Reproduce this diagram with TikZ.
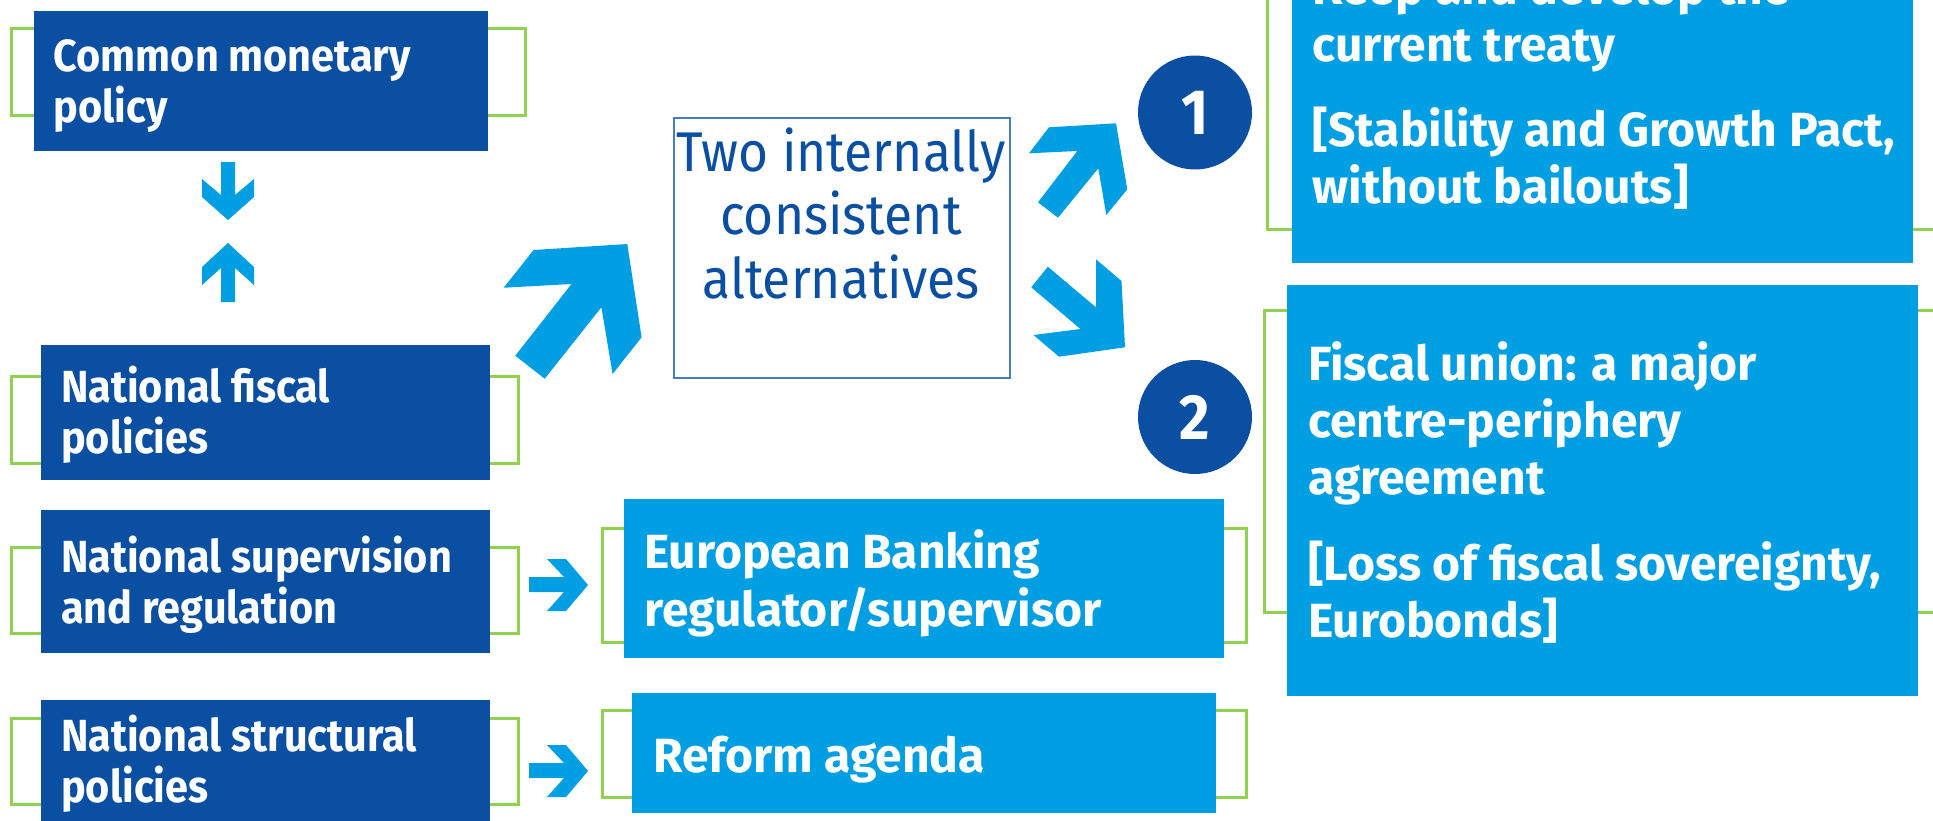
\documentclass[tikz,border=0pt]{standalone}
\usepackage{fontspec}
\newfontfamily\boxfont{Fira Sans}[FakeStretch=0.92]
\newfontfamily\widefont{Fira Sans}
\definecolor{ecbdark}{HTML}{0B4FA2}
\definecolor{ecblight}{HTML}{009FE3}
\definecolor{ecbgreen}{HTML}{92D050}
\definecolor{ecbframe}{HTML}{4A7EBB}
\tikzset{
  darkbox/.style={fill=ecbdark, inner sep=0pt, anchor=north west},
  lightbox/.style={fill=ecblight, inner sep=0pt, anchor=north west},
  altbox/.style={draw=ecbframe, line width=1.5pt, fill=white, inner sep=0pt, anchor=north west},
  bracket/.style={draw=ecbgreen, line width=3pt},
  boxtext/.style={text=white, font=\boxfont\fontsize{45}{51}\selectfont\bfseries, align=left, inner sep=0pt, anchor=base west},
  bigtext/.style={boxtext, font=\widefont\fontsize{48}{57}\selectfont\bfseries},
  alttext/.style={text=ecbdark, font=\boxfont\fontsize{56}{63.5}\selectfont, align=center, inner sep=0pt, anchor=base},
  numdisc/.style={circle, fill=ecbdark, minimum size=114pt, inner sep=0pt, text=white, font=\boxfont\fontsize{64}{64}\selectfont\bfseries},
}
\begin{document}
\begin{tikzpicture}[x=1pt,y=-1pt]
    \useasboundingbox (0,0) rectangle (1933,820);
    \clip (0,0) rectangle (1933,820);

    \draw[bracket] (11.5,28) rectangle (525,115);
    \foreach \ya/\yb in {376/463,547/633,718/804}
        \draw[bracket] (11.5,\ya) rectangle (518,\yb);
    \draw[bracket] (602,528) rectangle (1246,642);
    \draw[bracket] (602,710) rectangle (1246,797);
    \draw[bracket] (1267,-50) rectangle (1950,229);
    \draw[bracket] (1264,310) rectangle (1950,612);

    \node[darkbox, minimum width=454pt, minimum height=140pt] (monetary) at (34,11) {};
    \node[darkbox, minimum width=449pt, minimum height=135pt] (fiscal) at (41,345) {};
    \node[darkbox, minimum width=449pt, minimum height=143pt] (supervision) at (41,510) {};
    \node[darkbox, minimum width=449pt, minimum height=130pt] (structural) at (41,700) {};
    \node[lightbox, minimum width=600pt, minimum height=159pt] (banking) at (624,499) {};
    \node[lightbox, minimum width=584pt, minimum height=120pt] (reform) at (632,693) {};
    \node[lightbox, minimum width=621pt, minimum height=344pt] (treaty) at (1292,-81) {};
    \node[lightbox, minimum width=631pt, minimum height=411pt] (union) at (1287,285) {};
    \node[altbox, minimum width=336pt, minimum height=260pt] (twoalt) at (673,117) {};

    \node[boxtext] (monetary-t) at (53.5,122) {Common monetary\\policy};
    \node[boxtext] (fiscal-t) at (61,453) {National fiscal\\policies};
    \node[boxtext] (supervision-t) at (61,623) {National supervision\\and regulation};
    \node[boxtext] (structural-t) at (61,802) {National structural\\policies};
    \node[bigtext, font=\widefont\fontsize{48}{58}\selectfont\bfseries] (banking-t) at (644,626) {European Banking\\regulator/supervisor};
    \node[bigtext] (reform-t) at (653,772) {Reform agenda};
    \node[bigtext] (treaty-t) at (1312.5,203) {Keep and develop the\\current treaty\\[28pt]{[}Stability and Growth Pact,\\without bailouts{]}};
    \node[bigtext] (union-t) at (1308,637) {Fiscal union: a major\\centre-periphery\\agreement\\[29pt]{[}Loss of fiscal sovereignty,\\Eurobonds{]}};
    \node[alttext] (twoalt-t) at (841,298) {Two internally\\consistent\\alternatives};

    \node[numdisc] (one) at (1195,112.5) {1};
    \node[numdisc] (two) at (1195,417) {2};

    \fill[ecblight] (221,162) -- (235,162) -- (235,195) -- (254,179) -- (254,197) -- (228,220) -- (202,197) -- (202,179) -- (221,195) -- cycle;
    \fill[ecblight] (228,243) -- (254,267) -- (254,285) -- (235,268) -- (235,302) -- (221,302) -- (221,268) -- (202,285) -- (202,267) -- cycle;
    \foreach \dy in {0,186}
        \fill[ecblight, shift={(0,\dy)}] (529,577) -- (564,577) -- (547,559) -- (566,559) -- (588,585) -- (566,611) -- (547,611) -- (564,592) -- (529,592) -- cycle;

    \fill[ecblight] (503.7,287.7) -- (533.6,250) -- (627.3,244) -- (641.6,337.3) -- (612.6,374) -- (601.4,307.3) -- (544.7,378.7) -- (515.3,355.7) -- (571.5,284) -- cycle;
    \fill[ecblight] (1029,153.3) -- (1049,127.3) -- (1116,123.3) -- (1127.3,189.3) -- (1106.3,215) -- (1098.3,168.3) -- (1058,217.7) -- (1038,202.3) -- (1077.3,151) -- cycle;
    \fill[ecblight] (1031.3,287.3) -- (1080.4,329) -- (1033.5,335) -- (1059,356.7) -- (1125,347.3) -- (1121.5,281) -- (1096,259.3) -- (1096,307.3) -- (1047.8,266.7) -- cycle;
\end{tikzpicture}
\end{document}
